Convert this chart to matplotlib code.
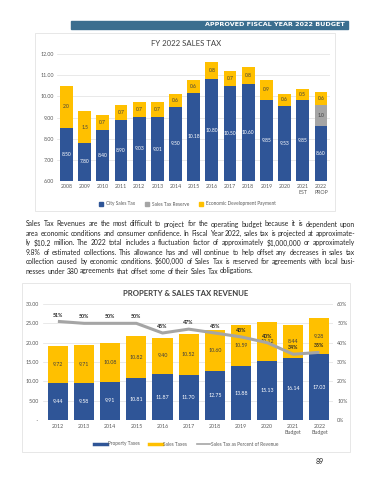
import matplotlib.pyplot as plt
from matplotlib.patches import Rectangle
from matplotlib.lines import Line2D

# FY 2022 sales tax chart
tax_years = ['2008', '2009', '2010', '2011', '2012', '2013', '2014', '2015',
             '2016', '2017', '2018', '2019', '2020', '2021\nEST', '2022\nPROP']
city_sales_tax = [8.50, 7.80, 8.40, 8.90, 9.03, 9.01, 9.50, 10.18,
                  10.80, 10.50, 10.60, 9.85, 9.53, 9.85, 8.60]
sales_tax_reserve = [0, 0, 0, 0, 0, 0, 0, 0, 0, 0, 0, 0, 0, 0, 1.0]
econ_dev_payment = [2.0, 1.5, 0.7, 0.7, 0.7, 0.7, 0.6, 0.6,
                    0.8, 0.7, 0.8, 0.9, 0.6, 0.5, 0.6]

# property & sales tax revenue chart
rev_years = ['2012', '2013', '2014', '2015', '2016', '2017', '2018',
             '2019', '2020', '2021\nBudget', '2022\nBudget']
property_taxes = [9.44, 9.58, 9.91, 10.81, 11.87, 11.70, 12.75, 13.88, 15.13, 16.14, 17.03]
sales_taxes = [9.72, 9.71, 10.08, 10.82, 9.40, 10.52, 10.60, 10.59, 10.12, 8.44, 9.28]
sales_pct = [51, 50, 50, 50, 45, 47, 45, 43, 40, 34, 35]

paragraph = [
    "Sales Tax Revenues are the most difficult to project for the operating budget because it is dependent upon",
    "area economic conditions and consumer confidence. In Fiscal Year 2022, sales tax is projected at approximate-",
    "ly $10.2 million. The 2022 total includes a fluctuation factor of approximately $1,000,000 or approximately",
    "9.8% of estimated collections. This allowance has and will continue to help offset any decreases in sales tax",
    "collection caused by economic conditions. $600,000 of Sales Tax is reserved for agreements with local busi-",
    "nesses under 380 agreements that offset some of their Sales Tax obligations.",
]

BLUE = '#2f5597'
YELLOW = '#ffc000'
GRAY = '#a5a5a5'
TXT = '#595959'
W, H = 370, 480

plt.rcParams['font.family'] = ['Lato', 'DejaVu Sans']


def rect(x0, y0, x1, y1):
    # pixel box -> figure fraction
    return [x0 / W, 1 - y1 / H, (x1 - x0) / W, (y1 - y0) / H]


fig = plt.figure(figsize=(3.7, 4.8), dpi=100)

# header band
fig.patches.append(Rectangle((71 / W, 1 - 29 / H), 277 / W, 8 / H,
                             transform=fig.transFigure, color='#3b6e8f'))
fig.text(345 / W, 1 - 25 / H, 'APPROVED FISCAL YEAR 2022 BUDGET', color='white',
         fontsize=4.6, fontweight='bold', ha='right', va='center',
         family=['Liberation Sans Narrow', 'DejaVu Sans'])

# chart frames
for x0, y0, x1, y1 in [(35, 33, 335, 211), (22, 283, 350, 452)]:
    fig.patches.append(Rectangle((x0 / W, 1 - y1 / H), (x1 - x0) / W, (y1 - y0) / H,
                                 transform=fig.transFigure, fill=False,
                                 edgecolor='#e3e3e3', linewidth=0.6))

# ---- chart 1 ----
ax = fig.add_axes(rect(57, 54, 330, 181))
x = list(range(len(tax_years)))
bot2 = [c + r for c, r in zip(city_sales_tax, sales_tax_reserve)]
ax.bar(x, city_sales_tax, width=0.7, color=BLUE, zorder=2)
ax.bar(x, sales_tax_reserve, bottom=city_sales_tax, width=0.7, color=GRAY, zorder=2)
ax.bar(x, econ_dev_payment, bottom=bot2, width=0.7, color=YELLOW, zorder=2)
ax.set_ylim(6, 12)
ax.set_xlim(-0.52, 14.5)
ax.set_yticks(range(6, 13))
ax.set_yticklabels(['%.2f' % v for v in range(6, 13)])
ax.set_xticks(x)
ax.set_xticklabels(tax_years, linespacing=1.3)
ax.tick_params(labelsize=3.8, colors=TXT, length=0, pad=2)
ax.grid(axis='y', color='#e0e0e0', linewidth=0.5, zorder=0)
for s in ax.spines.values():
    s.set_visible(False)
for i in x:
    ax.text(i, (6 + city_sales_tax[i]) / 2, '%.2f' % city_sales_tax[i],
            ha='center', va='center', color='white', fontsize=3.6)
    if sales_tax_reserve[i]:
        ax.text(i, city_sales_tax[i] + sales_tax_reserve[i] / 2, '%.1f' % sales_tax_reserve[i],
                ha='center', va='center', color='#404040', fontsize=3.6)
    ax.text(i, bot2[i] + econ_dev_payment[i] / 2, '%.1f' % econ_dev_payment[i],
            ha='center', va='center', color='#404040', fontsize=3.6)
fig.text(186 / W, 1 - 43 / H, 'FY 2022 SALES TAX', ha='center', va='center',
         fontsize=5.6, color='#404040')
h1 = [Line2D([], [], marker='s', ls='', color=c, markersize=2.3)
      for c in (BLUE, GRAY, YELLOW)]
fig.legend(h1, ['City Sales Tax', 'Sales Tax Reserve', 'Economic Development Payment'],
           loc='center', bbox_to_anchor=(186 / W, 1 - 204 / H), ncol=3, frameon=False,
           fontsize=3.4, handletextpad=0.0, columnspacing=1.6, labelcolor=TXT)

# ---- paragraph (justified) ----
r = fig.canvas.get_renderer()
x0, x1 = 26, 355
# font size chosen so the widest full line just fits the column
widest = 0
for line in paragraph[:-1]:
    probe = fig.text(0, 0, line, fontsize=10, parse_math=False)
    widest = max(widest, probe.get_window_extent(r).width)
    probe.remove()
fs = 10 * (x1 - x0) / widest
sp = fig.text(0, 0, 'a a', fontsize=fs)
sp2 = fig.text(0, 0, 'aa', fontsize=fs)
space = sp.get_window_extent(r).width - sp2.get_window_extent(r).width
sp.remove()
sp2.remove()
for i, line in enumerate(paragraph):
    words = line.split()
    y = 1 - (224 + i * 9.4) / H
    ts = [fig.text(0, y, w, va='center', fontsize=fs, color='#262626', parse_math=False)
          for w in words]
    ws = [t.get_window_extent(r).width for t in ts]
    gap = space if i == len(paragraph) - 1 else (x1 - x0 - sum(ws)) / (len(words) - 1)
    xp = x0
    for t, w in zip(ts, ws):
        t.set_x(xp / W)
        xp += w + gap

# ---- chart 2 ----
ax2 = fig.add_axes(rect(43, 304, 333, 420))
x = list(range(len(rev_years)))
ax2.bar(x, property_taxes, width=0.77, color=BLUE, zorder=2)
ax2.bar(x, sales_taxes, bottom=property_taxes, width=0.77, color=YELLOW, zorder=2)
ax2.set_ylim(0, 30)
ax2.set_xlim(-0.57, 10.52)
ax2.set_yticks(range(0, 31, 5))
ax2.set_yticklabels([' -'] + ['%.2f' % v for v in range(5, 31, 5)])
ax2.set_xticks(x)
ax2.set_xticklabels(rev_years, linespacing=1.3)
ax2.tick_params(labelsize=3.8, colors=TXT, length=0, pad=3)
ax2.grid(axis='y', color='#e0e0e0', linewidth=0.5, zorder=0)
for s in ax2.spines.values():
    s.set_visible(False)
for i in x:
    ax2.text(i, property_taxes[i] / 2, '%.2f' % property_taxes[i],
             ha='center', va='center', color='white', fontsize=3.8)
    ax2.text(i, property_taxes[i] + sales_taxes[i] / 2, '%.2f' % sales_taxes[i],
             ha='center', va='center', color='#404040', fontsize=3.8)

ax3 = ax2.twinx()
ax3.plot(x, sales_pct, color=GRAY, linewidth=2.2, solid_capstyle='butt')
ax3.set_ylim(0, 60)
ax3.set_yticks(range(0, 61, 10))
ax3.set_yticklabels(['%d%%' % v for v in range(0, 61, 10)])
ax3.tick_params(labelsize=3.8, colors=TXT, length=0, pad=3)
for s in ax3.spines.values():
    s.set_visible(False)
for i in x:
    ax3.annotate('%d%%' % sales_pct[i], (i, sales_pct[i]), xytext=(0, 4.6),
                 textcoords='offset points', ha='center', va='center',
                 fontsize=3.8, color='#262626', fontweight='bold')

fig.text(186 / W, 1 - 293 / H, 'PROPERTY & SALES TAX REVENUE', ha='center', va='center',
         fontsize=5.6, color='#404040', fontweight='bold')
h2 = [Line2D([], [], color=BLUE, linewidth=2.5),
      Line2D([], [], color=YELLOW, linewidth=2.5),
      Line2D([], [], color=GRAY, linewidth=1.2)]
fig.legend(h2, ['Property Taxes', 'Sales Taxes', 'Sales Tax as Percent of Revenue'],
           loc='center', bbox_to_anchor=(186 / W, 1 - 444 / H), ncol=3, frameon=False,
           fontsize=3.4, handlelength=2.8, handletextpad=0.2, columnspacing=2.0,
           labelcolor=TXT)

fig.text(320 / W, 1 - 461 / H, '89', ha='center', va='center', fontsize=5, color='#222222')

fig.savefig('out.png', dpi=100)
